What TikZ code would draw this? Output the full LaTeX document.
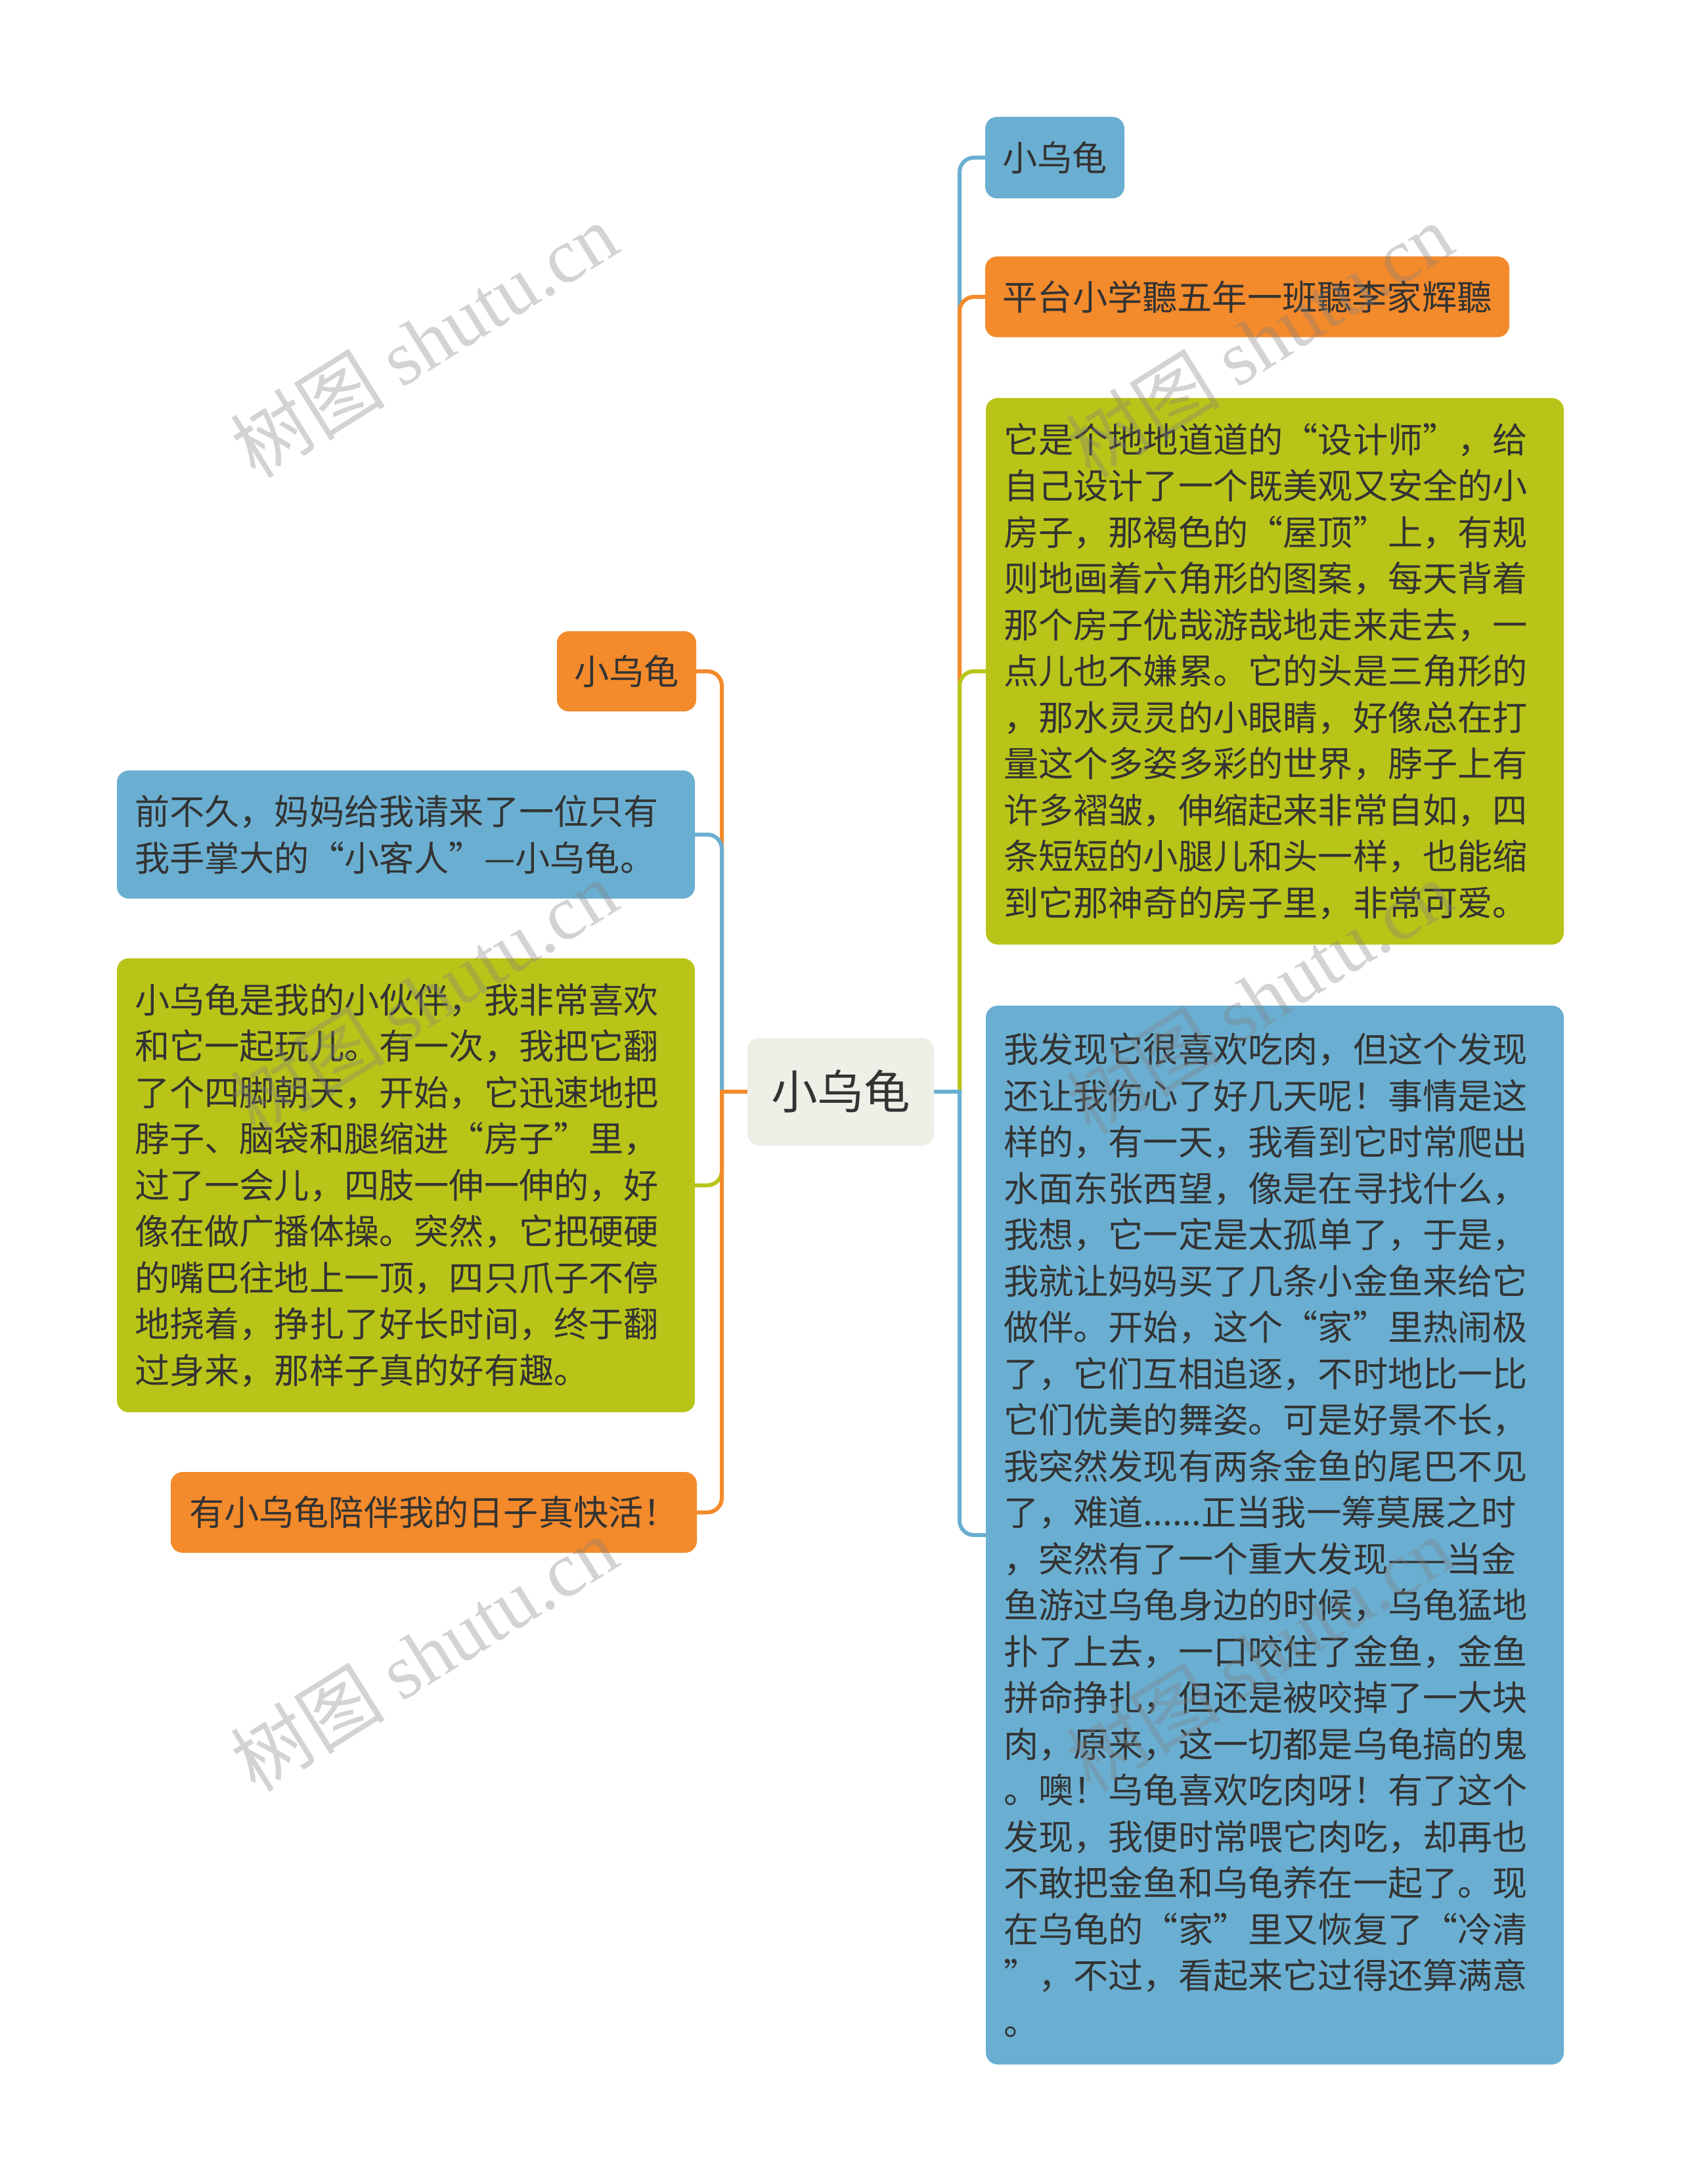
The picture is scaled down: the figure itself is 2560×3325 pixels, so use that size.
\documentclass[tikz,border=0pt]{standalone}
\usepackage{fontspec}
\setmainfont{Noto Sans CJK SC}
\newfontfamily\wmlatin{Liberation Serif}
\newfontfamily\wmcjk{Noto Sans CJK SC}
\usetikzlibrary{backgrounds}
\definecolor{tblue}{RGB}{106,175,209}
\definecolor{torange}{RGB}{243,138,43}
\definecolor{tgreen}{RGB}{185,196,24}
\definecolor{tcenter}{RGB}{239,239,232}
\definecolor{ttext}{RGB}{51,51,51}
\tikzset{
  box/.style={rectangle, rounded corners=4.5pt, inner sep=0pt, text=ttext,
    font=\fontsize{13.3pt}{17.625pt}\selectfont},
  wrapbox/.style={box, text width=206.5pt, align=left, minimum width=220pt},
  centerbox/.style={box, fill=tcenter, font=\fontsize{17.65pt}{20pt}\selectfont,
    minimum width=71pt, minimum height=41pt},
  conn/.style={line width=1.5pt, line cap=rect},
  bendline/.style={conn, rounded corners=5.5pt},
  wm/.style={rotate=32, text=gray, text opacity=0.34, inner sep=0pt}
}
\begin{document}
\begin{tikzpicture}[x=0.25pt, y=-0.25pt]
\useasboundingbox (0,0) rectangle (2560,3325);
% central node
\node[centerbox] (c) at (1280,1662) {小乌龟};
% right side
\node[box, fill=tblue, minimum width=53pt, minimum height=31pt] (r1) at (1606,240) {小乌龟};
\node[box, fill=torange, minimum width=199.5pt, minimum height=30.75pt] (r2) at (1899,452) {平台小学聽五年一班聽李家辉聽};
\node[wrapbox, fill=tgreen, minimum height=208pt] (r3) at (1941,1022) {它是个地地道道的“设计师”，给\\
自己设计了一个既美观又安全的小\\
房子，那褐色的“屋顶”上，有规\\
则地画着六角形的图案，每天背着\\
那个房子优哉游哉地走来走去，一\\
点儿也不嫌累。它的头是三角形的\\
，那水灵灵的小眼睛，好像总在打\\
量这个多姿多彩的世界，脖子上有\\
许多褶皱，伸缩起来非常自如，四\\
条短短的小腿儿和头一样，也能缩\\
到它那神奇的房子里，非常可爱。};
\node[wrapbox, fill=tblue, minimum height=403pt] (r4) at (1941,2337) {我发现它很喜欢吃肉，但这个发现\\
还让我伤心了好几天呢！事情是这\\
样的，有一天，我看到它时常爬出\\
水面东张西望，像是在寻找什么，\\
我想，它一定是太孤单了，于是，\\
我就让妈妈买了几条小金鱼来给它\\
做伴。开始，这个“家”里热闹极\\
了，它们互相追逐，不时地比一比\\
它们优美的舞姿。可是好景不长，\\
我突然发现有两条金鱼的尾巴不见\\
了，难道......正当我一筹莫展之时\\
，突然有了一个重大发现——当金\\
鱼游过乌龟身边的时候，乌龟猛地\\
扑了上去，一口咬住了金鱼，金鱼\\
拼命挣扎，但还是被咬掉了一大块\\
肉，原来，这一切都是乌龟搞的鬼\\
。噢！乌龟喜欢吃肉呀！有了这个\\
发现，我便时常喂它肉吃，却再也\\
不敢把金鱼和乌龟养在一起了。现\\
在乌龟的“家”里又恢复了“冷清\\
”，不过，看起来它过得还算满意\\
。};
% left side
\node[box, fill=torange, minimum width=53pt, minimum height=30.5pt] (l1) at (954,1022) {小乌龟};
\node[wrapbox, fill=tblue, minimum height=48.75pt] (l2) at (618,1270.5) {前不久，妈妈给我请来了一位只有\\
我手掌大的“小客人”—小乌龟。};
\node[wrapbox, fill=tgreen, minimum height=172.75pt] (l3) at (618,1804.5) {小乌龟是我的小伙伴，我非常喜欢\\
和它一起玩儿。有一次，我把它翻\\
了个四脚朝天，开始，它迅速地把\\
脖子、脑袋和腿缩进“房子”里，\\
过了一会儿，四肢一伸一伸的，好\\
像在做广播体操。突然，它把硬硬\\
的嘴巴往地上一顶，四只爪子不停\\
地挠着，挣扎了好长时间，终于翻\\
过身来，那样子真的好有趣。};
\node[box, fill=torange, minimum width=200.25pt, minimum height=30.75pt] (l4) at (660.5,2302.5) {有小乌龟陪伴我的日子真快活！};
% trunk points
\coordinate (lt) at (1099,1662);
\coordinate (rt) at (1461,1662);
\begin{scope}[on background layer]
  \fill[white] (0,0) rectangle (2560,3325);
  % left connectors
  \draw[conn, torange] (c.west) -- (lt);
  \draw[bendline, torange] (lt) -- (lt |- l1.east) -- (l1.east);
  \draw[conn, tblue] (c.west) -- (lt);
  \draw[bendline, tblue] (lt) -- (lt |- l2.east) -- (l2.east);
  \draw[conn, tgreen] (c.west) -- (lt);
  \draw[bendline, tgreen] (lt) -- (lt |- l3.east) -- (l3.east);
  \draw[conn, torange] (c.west) -- (lt);
  \draw[bendline, torange] (lt) -- (lt |- l4.east) -- (l4.east);
  % right connectors
  \draw[conn, tblue] (c.east) -- (rt);
  \draw[bendline, tblue] (rt) -- (rt |- r1.west) -- (r1.west);
  \draw[conn, torange] (c.east) -- (rt);
  \draw[bendline, torange] (rt) -- (rt |- r2.west) -- (r2.west);
  \draw[conn, tgreen] (c.east) -- (rt);
  \draw[bendline, tgreen] (rt) -- (rt |- r3.west) -- (r3.west);
  \draw[conn, tblue] (c.east) -- (rt);
  \draw[bendline, tblue] (rt) -- (rt |- r4.west) -- (r4.west);
\end{scope}
% watermarks
\foreach \wx/\wy [count=\i] in {645/518, 1917/518, 645/1518, 1917/1518, 645/2518, 1917/2518}{
  \node[wm] (wm\i) at (\wx,\wy) {\fontsize{29.5pt}{29.5pt}\selectfont\wmcjk 树图 \wmlatin shutu.cn};
}
\end{tikzpicture}
\end{document}
